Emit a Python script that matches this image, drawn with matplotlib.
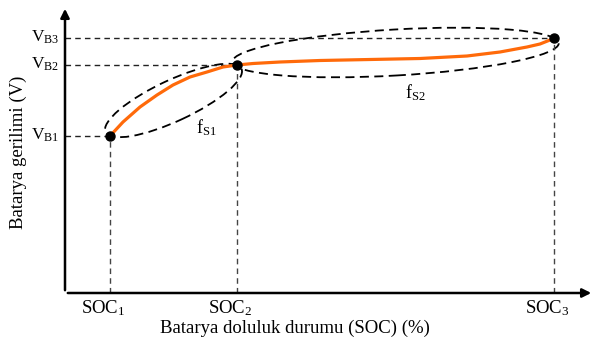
import numpy as np
import matplotlib
matplotlib.use('Agg')
import matplotlib.pyplot as plt
from matplotlib.patches import Ellipse

plt.rcParams['font.family'] = ['Liberation Serif', 'DejaVu Serif']
plt.rcParams['mathtext.fontset'] = 'custom'
plt.rcParams['mathtext.rm'] = 'Liberation Serif'
plt.rcParams['mathtext.it'] = 'Liberation Serif:italic'

# breakpoints (arbitrary units, no numeric ticks in the original)
soc = [45, 172, 489]
vb = [157, 228, 255]
soc_labels = [r'SOC$_1$', r'SOC$_2$', r'SOC$_3$']
vb_labels = [r'V$_{\mathrm{B1}}$', r'V$_{\mathrm{B2}}$', r'V$_{\mathrm{B3}}$']

# orange curve
seg1_x = [45, 58, 75, 92, 108, 125, 142, 158, 172]
seg1_y = [157, 171, 186, 198, 208, 216, 221, 226, 228]
seg2_x = [172, 188, 215, 255, 305, 355, 402, 435, 462, 475, 485, 489]
seg2_y = [228, 229.5, 231, 232.5, 233.5, 234.5, 237, 241, 246, 249, 253, 255]

fig = plt.figure(figsize=(5.94, 3.42), dpi=100)
ax = fig.add_axes([0, 0, 1, 1])
ax.set_xlim(-65, 529)
ax.set_ylim(-49, 293)
ax.axis('off')

# axes with arrow heads
ax.annotate('', xy=(0, 287), xytext=(0, 0),
            arrowprops=dict(arrowstyle='-|>', lw=1.8, color='black', mutation_scale=13))
ax.annotate('', xy=(529, 0), xytext=(0, 0),
            arrowprops=dict(arrowstyle='-|>', lw=1.8, color='black', mutation_scale=13))

# projection lines
for s, v in zip(soc, vb):
    ax.plot([0, s], [v, v], color='#222222', lw=1.0, ls=(0, (4, 3)))
    ax.plot([s, s], [0, v], color='#444444', lw=1.0, ls=(0, (4, 3)))

# dashed ellipses around each segment
c1 = ((soc[0] + soc[1]) / 2, (vb[0] + vb[1]) / 2)
ax.add_patch(Ellipse(c1, 150, 41, angle=25, fill=False, ec='black',
                     lw=1.3, ls=(0, (5, 3))))
c2 = ((soc[1] + soc[2]) / 2, (vb[1] + vb[2]) / 2 - 1)
ax.add_patch(Ellipse(c2, 327, 46, angle=3.3, fill=False, ec='black',
                     lw=1.3, ls=(0, (5, 3))))

ax.plot(seg1_x, seg1_y, color='#ff6a0a', lw=2.3, solid_capstyle='round')
ax.plot(seg2_x, seg2_y, color='#ff6a0a', lw=2.3, solid_capstyle='round')
ax.plot(soc, vb, 'o', color='black', ms=6.5, zorder=5)

fs = 13.5
for s, lab in zip(soc, soc_labels):
    ax.text(s - 7, -15, lab, ha='center', va='center', fontsize=fs)
for v, lab in zip(vb, vb_labels):
    ax.text(-6, v - 4, lab, ha='right', va='baseline', fontsize=12.5)

ax.text(141, 165, r'f$_{\mathrm{S1}}$', ha='center', va='center', fontsize=13)
ax.text(350, 200, r'f$_{\mathrm{S2}}$', ha='center', va='center', fontsize=13)

ax.text(230, -35, 'Batarya doluluk durumu (SOC) (%)', ha='center', va='center', fontsize=fs)
ax.text(-47, 141, 'Batarya gerilimi (V)', rotation=90, ha='center', va='center', fontsize=fs)

fig.savefig('out.png', dpi=100)
